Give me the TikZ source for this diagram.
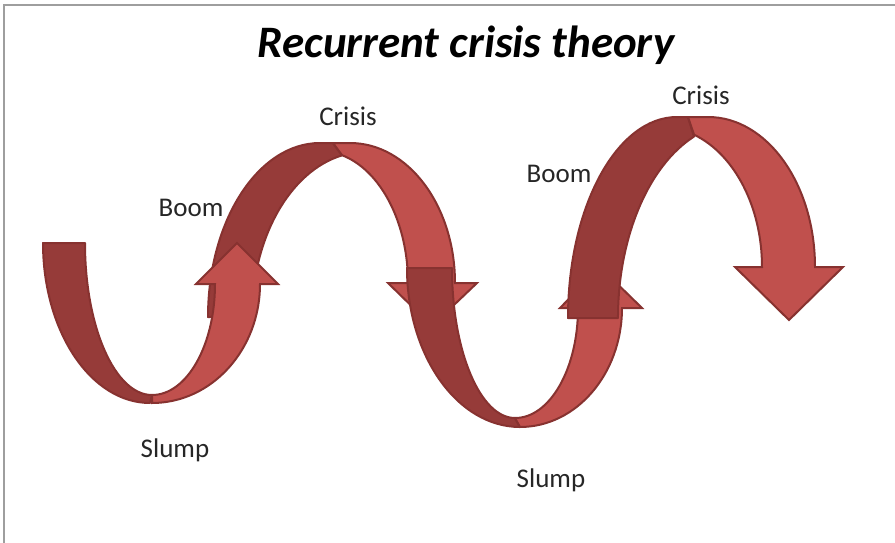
\documentclass[tikz,border=0pt]{standalone}
\usepackage{fontspec}
\setmainfont{Carlito}
\definecolor{backred}{RGB}{150,59,57}
\definecolor{frontred}{RGB}{192,80,77}
\definecolor{edgered}{RGB}{135,50,48}
\definecolor{framegray}{RGB}{158,158,158}
\tikzset{
  backband/.style={fill=backred, draw=edgered, line width=2pt, line join=round},
  frontband/.style={fill=frontred, draw=edgered, line width=2pt, line join=miter},
  lbl/.style={font=\fontsize{27}{32}\selectfont, anchor=base, inner sep=0pt, text=black!85},
  ttl/.style={font=\fontsize{45}{52}\selectfont\bfseries\itshape, anchor=base, inner sep=0pt},
}
\begin{document}
\begin{tikzpicture}[x=1pt,y=-1pt]
\useasboundingbox (0,0) rectangle (895,543);
\draw[framegray, line width=1.5pt] (4,543) -- (4,5) -- (895,5);

% ---- arch 1 (crisis 1)
\path[backband] (208,317) arc[start angle=-180,end angle=-270,x radius=112pt,y radius=174pt]
  -- (333,143) -- (342,155.4)
  arc[start angle=-258.3,end angle=-180,x radius=113pt,y radius=165pt] -- cycle;
\path[frontband] (333,143) -- (350,143)
  arc[start angle=-270,end angle=-360,x radius=105pt,y radius=140pt]
  -- (477,283) -- (432,326) -- (388,283) -- (408,283)
  arc[start angle=0,end angle=75.5,x radius=88pt,y radius=132pt] -- cycle;

% ---- U 1 (slump 1)
\path[backband] (43,243) arc[start angle=-180,end angle=-90,x radius=107pt,y radius=160pt]
  -- (152,395)
  arc[start angle=-90,end angle=-180,x radius=67pt,y radius=152pt] -- cycle;
\path[frontband] (152,403) arc[start angle=-90,end angle=0,x radius=108pt,y radius=119pt]
  -- (278,284) -- (237,243) -- (196,284) -- (215,284)
  arc[start angle=0,end angle=-90,x radius=63pt,y radius=111pt] -- cycle;

% ---- U 2 (slump 2)
\path[backband] (407,268) arc[start angle=-180,end angle=-90,x radius=113pt,y radius=159pt]
  -- (515,418)
  arc[start angle=-90,end angle=-180,x radius=63pt,y radius=150pt] -- cycle;
\path[frontband] (520,427) arc[start angle=-90,end angle=0,x radius=102pt,y radius=119pt]
  -- (642,308) -- (600,267) -- (560,308) -- (578,308)
  arc[start angle=0,end angle=-90,x radius=63pt,y radius=110pt] -- cycle;

% ---- arch 2 (crisis 2)
\path[backband] (568,318) arc[start angle=-180,end angle=-270,x radius=109pt,y radius=201pt]
  -- (688,117) -- (694,136.6)
  arc[start angle=-248.5,end angle=-180,x radius=120pt,y radius=195pt] -- cycle;
\path[frontband] (688,117) -- (708,117)
  arc[start angle=-270,end angle=-360,x radius=107pt,y radius=150pt]
  -- (843,267) -- (789,320) -- (735,267) -- (762,267)
  arc[start angle=0,end angle=70.9,x radius=101pt,y radius=140pt] -- cycle;

% ---- texts
\node[ttl] (title) at (466,58) {Recurrent crisis theory};
\node[lbl] (crisisA) at (348,125) {Crisis};
\node[lbl] (crisisB) at (701,105) {Crisis};
\node[lbl] (boomA) at (191,216) {Boom};
\node[lbl] (boomB) at (559,182) {Boom};
\node[lbl] (slumpA) at (175,457) {Slump};
\node[lbl] (slumpB) at (551,487) {Slump};
\end{tikzpicture}
\end{document}
